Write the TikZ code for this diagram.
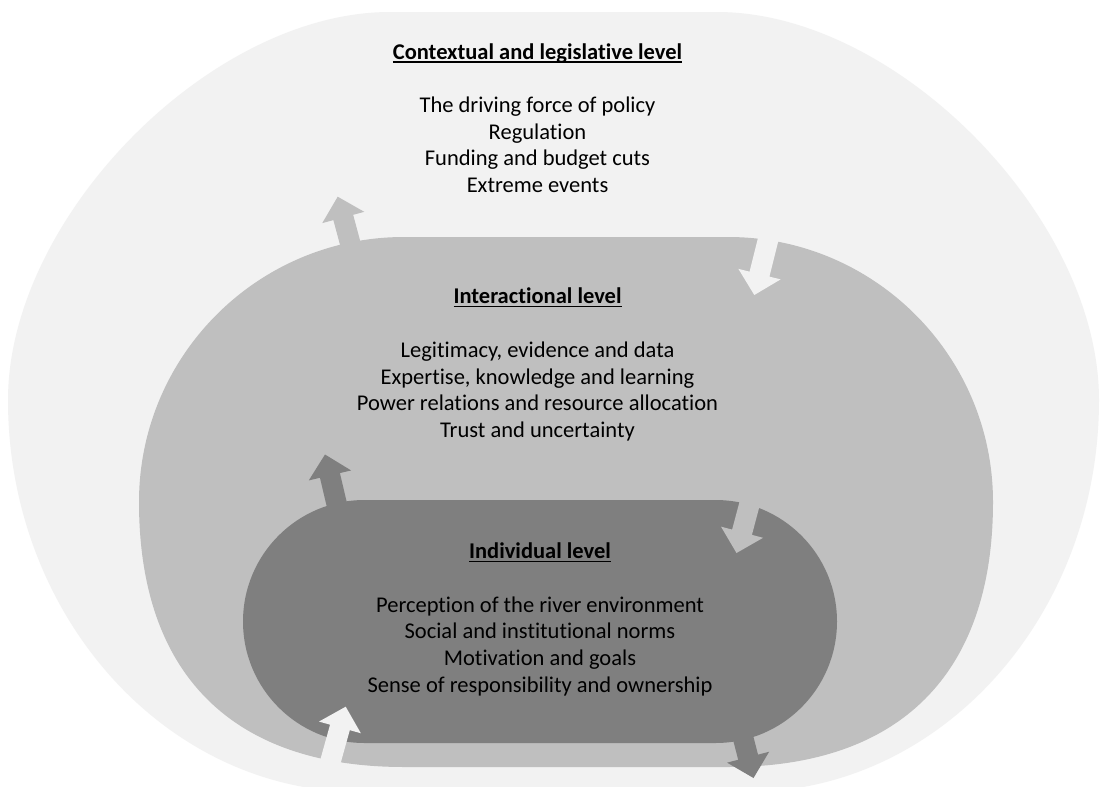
\documentclass[tikz,border=0pt]{standalone}
\usepackage{fontspec}
\setmainfont{Carlito}[Ligatures={NoCommon}]
\usetikzlibrary{calc}
\definecolor{outerc}{HTML}{F2F2F2}
\definecolor{midc}{HTML}{BFBFBF}
\definecolor{innerc}{HTML}{7F7F7F}
\newcommand\ulbf[1]{\setbox0=\hbox{\bfseries #1}\rlap{\rule[-3.6pt]{\wd0}{1.6pt}}\box0}
% block arrow: #1 fill colour, #2 base coordinate, #3 tip coordinate, #4 prefix
\newcommand\blkarrow[4]{%
  \coordinate (#4h) at ($(#3)!21.5pt!(#2)$);
  \fill[#1] ($(#2)!10.25pt!90:(#3)$) -- ($(#4h)!10.25pt!90:(#3)$)
    -- ($(#4h)!21.75pt!90:(#3)$) -- (#3)
    -- ($(#4h)!21.75pt!-90:(#3)$) -- ($(#4h)!10.25pt!-90:(#3)$)
    -- ($(#2)!10.25pt!-90:(#3)$) -- cycle;}
\begin{document}
\begin{tikzpicture}[x=1pt,y=-1pt,
  txt/.style={inner sep=0pt, anchor=base, text=black, font=\fontsize{22.5}{27}\selectfont}]
\fill[white] (0,0) rectangle (1101,787);
\useasboundingbox (0,0) rectangle (1101,787);
\clip (0,0) rectangle (1101,787);

% outer level
\fill[outerc] (390,12) -- (717,12) .. controls (897,12) and (1099,218) .. (1099,400)
  .. controls (1099,616) and (941,792) .. (747,792) -- (360,792)
  .. controls (166,792) and (8,616) .. (8,400)
  .. controls (8,218) and (210,12) .. (390,12) -- cycle;

% middle level
\fill[midc] (404,237) -- (728,237) .. controls (874.3,237) and (993,355.7) .. (993,502)
  .. controls (993,674) and (900,767) .. (728,767) -- (404,767)
  .. controls (232,767) and (139,674) .. (139,502)
  .. controls (139,355.7) and (257.7,237) .. (404,237) -- cycle;

% arrows between outer and middle
\coordinate (a1b) at (352,250);   \coordinate (a1t) at (337.7,196.7);
\coordinate (a2b) at (770,232);   \coordinate (a2t) at (754.3,295);
\blkarrow{midc}{a1b}{a1t}{a1}
\blkarrow{outerc}{a2b}{a2t}{a2}

% inner level
\fill[innerc, rounded corners=121.5pt] (243,500) rectangle (837,743);

% arrows around inner
\coordinate (a3b) at (338.8,513); \coordinate (a3t) at (325,454.5);
\coordinate (a4b) at (751.9,495); \coordinate (a4t) at (736.5,553);
\coordinate (a5b) at (326.4,776); \coordinate (a5t) at (345.7,706.7);
\coordinate (a6b) at (738.5,720); \coordinate (a6t) at (753.5,778);
\blkarrow{innerc}{a3b}{a3t}{a3}
\blkarrow{midc}{a4b}{a4t}{a4}
\blkarrow{outerc}{a5b}{a5t}{a5}
\blkarrow{innerc}{a6b}{a6t}{a6}

% texts
\node[txt] (c0) at (537.5,59)    {\ulbf{Contextual and legislative level}};
\node[txt] (c1) at (537.5,112.3) {The driving force of policy};
\node[txt] (c2) at (537.5,139)   {Regulation};
\node[txt] (c3) at (537.5,165.7) {Funding and budget cuts};
\node[txt] (c4) at (537.5,192.4) {Extreme events};

\node[txt] (m0) at (537.5,303.5) {\ulbf{Interactional level}};
\node[txt] (m1) at (537.5,357.5) {Legitimacy, evidence and data};
\node[txt] (m2) at (537.5,384.2) {Expertise, knowledge and learning};
\node[txt] (m3) at (537.5,410.9) {Power relations and resource allocation};
\node[txt] (m4) at (537.5,437.6) {Trust and uncertainty};

\node[txt] (i0) at (540,558.5) {\ulbf{Individual level}};
\node[txt] (i1) at (540,612)   {Perception of the river environment};
\node[txt] (i2) at (540,638.5) {Social and institutional norms};
\node[txt] (i3) at (540,665)   {Motivation and goals};
\node[txt] (i4) at (540,692)   {Sense of responsibility and ownership};
\end{tikzpicture}
\end{document}
